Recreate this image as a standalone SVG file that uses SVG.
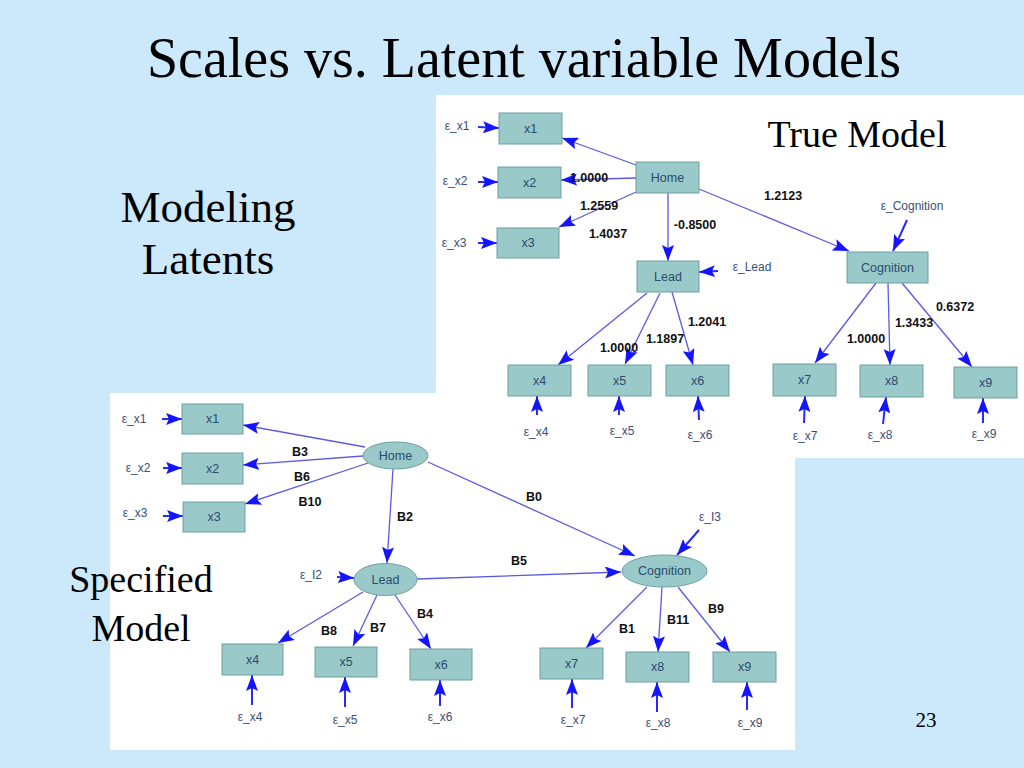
<svg xmlns="http://www.w3.org/2000/svg" width="1024" height="768" viewBox="0 0 1024 768">
<defs>
<style>
.bg{fill:#cce9fc}
.panel{fill:#ffffff}
.box{fill:#99c9c9;stroke:#6f9f9f;stroke-width:1}
.nl{font-family:"Liberation Sans",Arial,sans-serif;font-size:12.5px;fill:#2c4a6e;text-anchor:middle;dominant-baseline:central}
.el{font-family:"Liberation Sans",Arial,sans-serif;font-size:12px;fill:#3a4f7a;text-anchor:middle;dominant-baseline:central}
.wl{font-family:"Liberation Sans",Arial,sans-serif;font-size:12.5px;font-weight:bold;fill:#111111;text-anchor:middle;dominant-baseline:central}
.edge{stroke:#5a5ae6;stroke-width:1.3;fill:none;marker-end:url(#ah)}
.err{stroke:#2828ff;stroke-width:2;fill:none;marker-end:url(#ah)}
</style>
<marker id="ah" markerUnits="userSpaceOnUse" markerWidth="17" markerHeight="12" refX="16" refY="6" orient="auto" viewBox="0 0 17 12">
<path d="M0,0 L16,6 L0,12 L3,6 z" fill="#1414ff"/>
</marker>
</defs>
<rect class="bg" x="0" y="0" width="1024" height="768"/>
<g font-family="'Liberation Serif', 'Times New Roman', serif" fill="#000000" text-anchor="middle">
<text x="524" y="77" font-size="56">Scales vs. Latent variable Models</text>
</g>
<rect class="panel" x="110" y="393" width="685" height="357"/>
<rect class="panel" x="436" y="95" width="588" height="363"/>
<g font-family="'Liberation Serif', 'Times New Roman', serif" fill="#000000" text-anchor="middle">
<text x="208" y="222" font-size="45">Modeling</text>
<text x="208" y="274" font-size="45">Latents</text>
<text x="857" y="147" font-size="38">True Model</text>
<text x="141" y="592" font-size="38">Specified</text>
<text x="141" y="641" font-size="38">Model</text>
<text x="926" y="727" font-size="21">23</text>
</g>

<g id="connectors">
<path class="edge" d="M636,165 L562,138"/>
<path class="edge" d="M636,178 L561,180"/>
<path class="edge" d="M636,192 L559,227"/>
<path class="edge" d="M668,193 L668,261"/>
<path class="edge" d="M699,189 L849,251"/>
<path class="edge" d="M647,293 L558,365"/>
<path class="edge" d="M660,293 L625,364"/>
<path class="edge" d="M672,292 L693,365"/>
<path class="edge" d="M876,283 L815,363"/>
<path class="edge" d="M888,283 L890,365"/>
<path class="edge" d="M902,283 L972,367"/>
<path class="err" d="M478,127 L499,128"/>
<path class="err" d="M478,182 L498,182"/>
<path class="err" d="M478,243 L497,243"/>
<path class="err" d="M718,271 L699,272"/>
<path class="err" d="M907,220 L893,251"/>
<path class="err" d="M537,415 L537,396"/>
<path class="err" d="M619,415 L619,396"/>
<path class="err" d="M699,420 L698,396"/>
<path class="err" d="M804,423 L805,396"/>
<path class="err" d="M883,424 L886,397"/>
<path class="err" d="M983,423 L983,398"/>

<path class="edge" d="M365,447 L243,425"/>
<path class="edge" d="M363,456 L243,465"/>
<path class="edge" d="M368,463 L245,504"/>
<path class="edge" d="M393,469 L387,563"/>
<path class="edge" d="M428,462 L635,556"/>
<path class="edge" d="M417,579 L621,572"/>
<path class="edge" d="M363,592 L278,643"/>
<path class="edge" d="M377,595 L353,646"/>
<path class="edge" d="M395,595 L431,649"/>
<path class="edge" d="M647,587 L586,648"/>
<path class="edge" d="M662,587 L658,652"/>
<path class="edge" d="M678,587 L730,652"/>
<path class="err" d="M162,419 L182,419"/>
<path class="err" d="M163,468 L182,468"/>
<path class="err" d="M163,516 L183,516"/>
<path class="err" d="M337,577 L354,578"/>
<path class="err" d="M699,530 L677,555"/>
<path class="err" d="M252,705 L252,675"/>
<path class="err" d="M345,707 L345,677"/>
<path class="err" d="M440,706 L440,680"/>
<path class="err" d="M572,708 L572,679"/>
<path class="err" d="M657,712 L657,682"/>
<path class="err" d="M747,710 L747,682"/>

<text class="wl" x="589" y="178">1.0000</text>
<text class="wl" x="599" y="206">1.2559</text>
<text class="wl" x="608" y="234">1.4037</text>
<text class="wl" x="695" y="225">-0.8500</text>
<text class="wl" x="783" y="196">1.2123</text>
<text class="wl" x="707" y="322">1.2041</text>
<text class="wl" x="665" y="339">1.1897</text>
<text class="wl" x="619" y="348">1.0000</text>
<text class="wl" x="866" y="339">1.0000</text>
<text class="wl" x="914" y="323">1.3433</text>
<text class="wl" x="955" y="307">0.6372</text>

<text class="wl" x="300" y="452">B3</text>
<text class="wl" x="302" y="477">B6</text>
<text class="wl" x="310" y="502">B10</text>
<text class="wl" x="405" y="517">B2</text>
<text class="wl" x="534" y="497">B0</text>
<text class="wl" x="519" y="561">B5</text>
<text class="wl" x="329" y="631">B8</text>
<text class="wl" x="378" y="628">B7</text>
<text class="wl" x="425" y="614">B4</text>
<text class="wl" x="627" y="629">B1</text>
<text class="wl" x="678" y="620">B11</text>
<text class="wl" x="716" y="609">B9</text>
</g>

<g id="t_x1"><rect class="box" x="499" y="113" width="63" height="31"/><text class="nl" x="530.5" y="128.5">x1</text></g>
<g id="t_x2"><rect class="box" x="498" y="167" width="63" height="31"/><text class="nl" x="529.5" y="182.5">x2</text></g>
<g id="t_x3"><rect class="box" x="497" y="228" width="62" height="30"/><text class="nl" x="528" y="243">x3</text></g>
<g id="t_home"><rect class="box" x="636" y="162" width="63" height="31"/><text class="nl" x="667.5" y="177.5">Home</text></g>
<g id="t_lead"><rect class="box" x="637" y="261" width="62" height="31"/><text class="nl" x="668" y="276.5">Lead</text></g>
<g id="t_cognition"><rect class="box" x="847" y="252" width="81" height="31"/><text class="nl" x="887.5" y="267.5">Cognition</text></g>
<g id="t_x4"><rect class="box" x="508" y="365" width="63" height="31"/><text class="nl" x="539.5" y="380.5">x4</text></g>
<g id="t_x5"><rect class="box" x="588" y="365" width="63" height="31"/><text class="nl" x="619.5" y="380.5">x5</text></g>
<g id="t_x6"><rect class="box" x="666" y="365" width="63" height="31"/><text class="nl" x="697.5" y="380.5">x6</text></g>
<g id="t_x7"><rect class="box" x="773" y="364" width="63" height="32"/><text class="nl" x="804.5" y="380">x7</text></g>
<g id="t_x8"><rect class="box" x="860" y="365" width="63" height="32"/><text class="nl" x="891.5" y="381">x8</text></g>
<g id="t_x9"><rect class="box" x="954" y="367" width="63" height="31"/><text class="nl" x="985.5" y="382.5">x9</text></g>

<g id="t_e_x1"><text class="el" x="457" y="126">ε_x1</text></g>
<g id="t_e_x2"><text class="el" x="455" y="181">ε_x2</text></g>
<g id="t_e_x3"><text class="el" x="454" y="243">ε_x3</text></g>
<g id="t_e_lead"><text class="el" x="752" y="267">ε_Lead</text></g>
<g id="t_e_cognition"><text class="el" x="912" y="206">ε_Cognition</text></g>
<g id="t_e_x4"><text class="el" x="536" y="432">ε_x4</text></g>
<g id="t_e_x5"><text class="el" x="622" y="431">ε_x5</text></g>
<g id="t_e_x6"><text class="el" x="700" y="435">ε_x6</text></g>
<g id="t_e_x7"><text class="el" x="805" y="436">ε_x7</text></g>
<g id="t_e_x8"><text class="el" x="880" y="435">ε_x8</text></g>
<g id="t_e_x9"><text class="el" x="984" y="434">ε_x9</text></g>

<g id="b_x1"><rect class="box" x="182" y="404" width="61" height="30"/><text class="nl" x="212.5" y="419">x1</text></g>
<g id="b_x2"><rect class="box" x="182" y="453" width="61" height="31"/><text class="nl" x="212.5" y="468.5">x2</text></g>
<g id="b_x3"><rect class="box" x="183" y="502" width="62" height="30"/><text class="nl" x="214" y="517">x3</text></g>
<g id="b_home"><ellipse class="box" cx="395.5" cy="455.5" rx="32.5" ry="13.5"/><text class="nl" x="395.5" y="455.5">Home</text></g>
<g id="b_lead"><ellipse class="box" cx="385.5" cy="579.5" rx="31.5" ry="16"/><text class="nl" x="385.5" y="579.5">Lead</text></g>
<g id="b_cognition"><ellipse class="box" cx="664.5" cy="571" rx="42.5" ry="16"/><text class="nl" x="664.5" y="571">Cognition</text></g>
<g id="b_x4"><rect class="box" x="222" y="644" width="61" height="31"/><text class="nl" x="252.5" y="659.5">x4</text></g>
<g id="b_x5"><rect class="box" x="315" y="647" width="62" height="30"/><text class="nl" x="346" y="662">x5</text></g>
<g id="b_x6"><rect class="box" x="410" y="649" width="62" height="31"/><text class="nl" x="441" y="664.5">x6</text></g>
<g id="b_x7"><rect class="box" x="540" y="648" width="63" height="31"/><text class="nl" x="571.5" y="663.5">x7</text></g>
<g id="b_x8"><rect class="box" x="626" y="652" width="63" height="30"/><text class="nl" x="657.5" y="667">x8</text></g>
<g id="b_x9"><rect class="box" x="713" y="652" width="63" height="30"/><text class="nl" x="744.5" y="667">x9</text></g>

<g id="b_e_x1"><text class="el" x="134" y="419">ε_x1</text></g>
<g id="b_e_x2"><text class="el" x="138" y="468">ε_x2</text></g>
<g id="b_e_x3"><text class="el" x="135" y="513">ε_x3</text></g>
<g id="b_e_i2"><text class="el" x="311" y="575">ε_I2</text></g>
<g id="b_e_i3"><text class="el" x="710" y="517">ε_I3</text></g>
<g id="b_e_x4"><text class="el" x="250" y="717">ε_x4</text></g>
<g id="b_e_x5"><text class="el" x="345" y="720">ε_x5</text></g>
<g id="b_e_x6"><text class="el" x="440" y="717">ε_x6</text></g>
<g id="b_e_x7"><text class="el" x="573" y="720">ε_x7</text></g>
<g id="b_e_x8"><text class="el" x="658" y="723">ε_x8</text></g>
<g id="b_e_x9"><text class="el" x="750" y="723">ε_x9</text></g>
</svg>
